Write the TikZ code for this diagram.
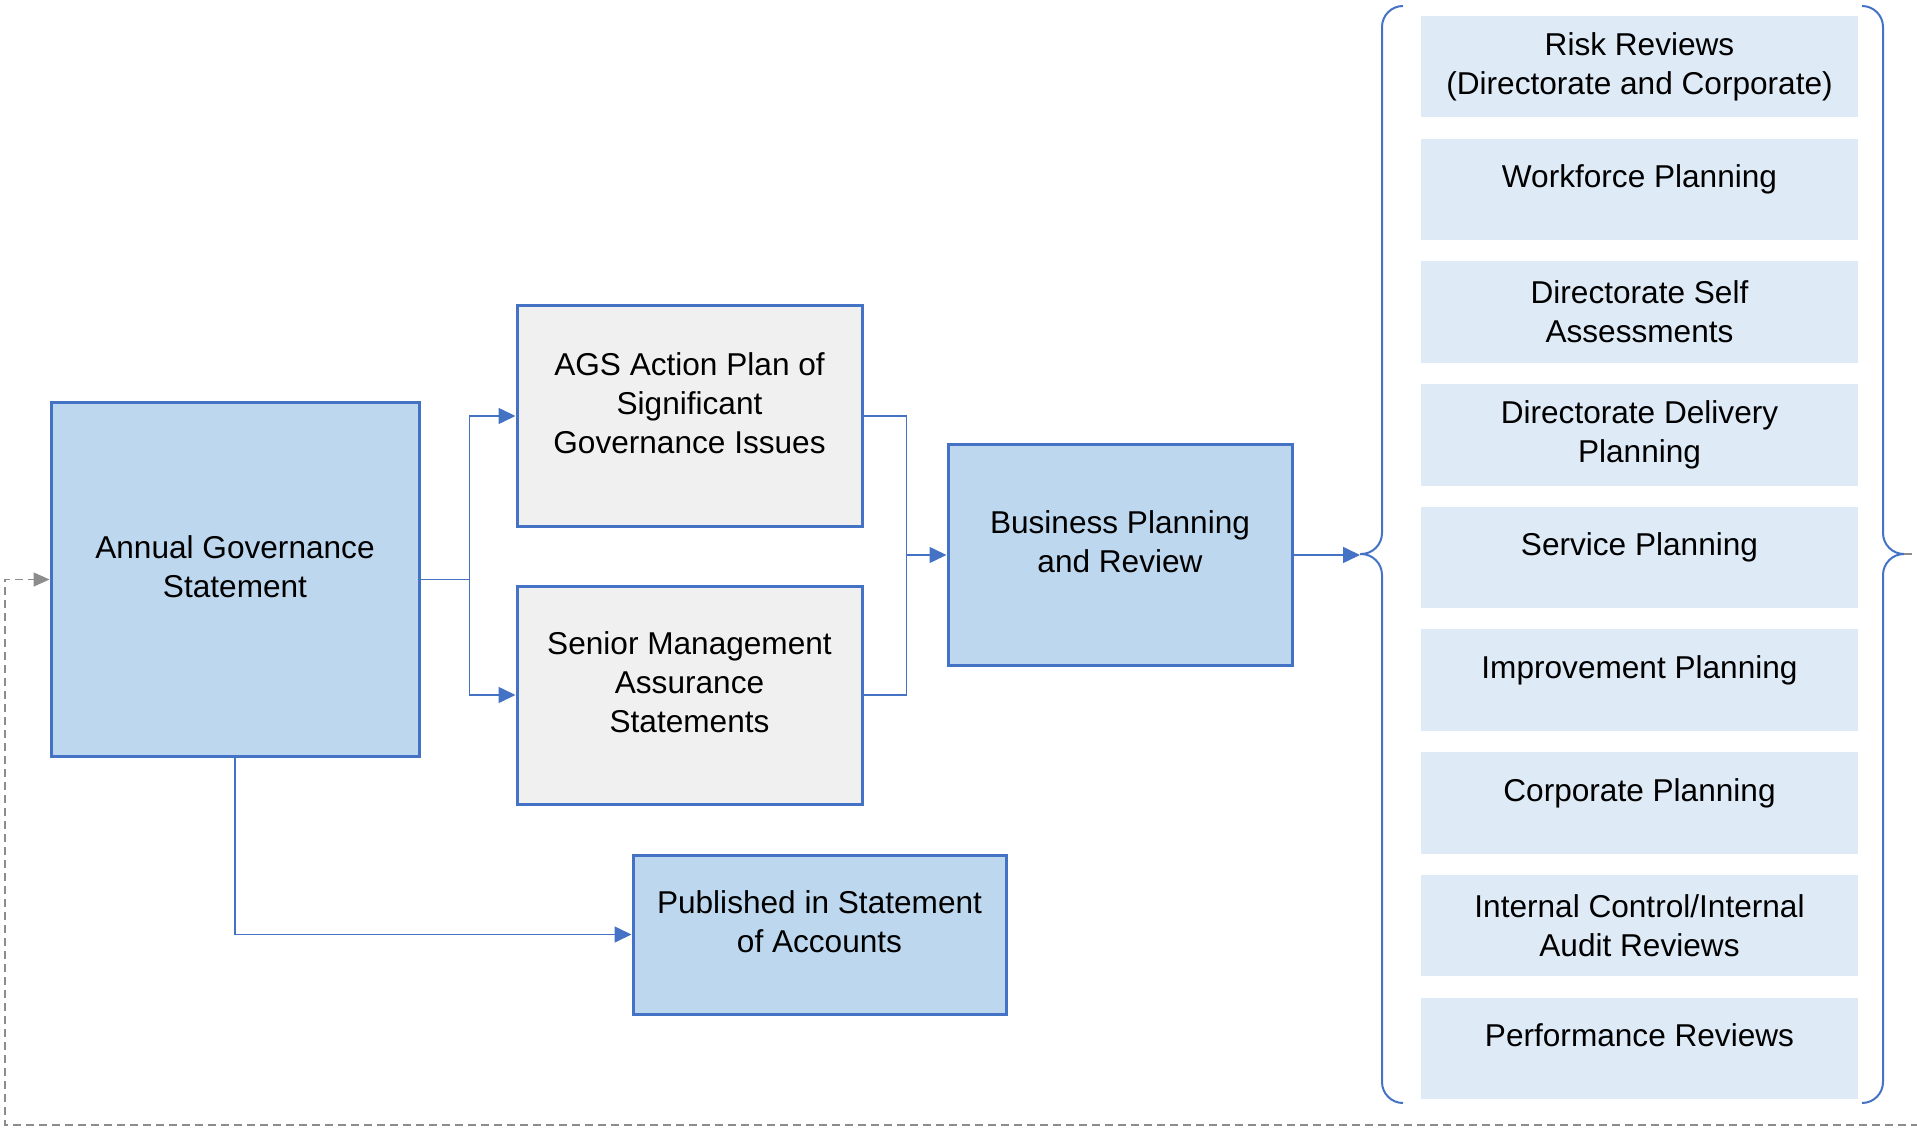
\documentclass[tikz,border=0pt]{standalone}
\usepackage{fontspec}
\setmainfont{Liberation Sans}
\usepackage{xcolor}
\usepackage{tikz}
\usetikzlibrary{
    positioning,
    arrows.meta,
    calc
}
\definecolor{edgeblue}{HTML}{4472C4}
\definecolor{mainfill}{HTML}{BDD7EE}
\definecolor{greyfill}{HTML}{F0F0F0}
\definecolor{itemfill}{HTML}{DEEAF6}
\definecolor{dashgrey}{HTML}{8C8C8C}
\tikzset{
  basic/.style = {
      draw=edgeblue,
      line width=1.5pt,
      rectangle,
      inner sep=0pt,
      align=center,
      font=\fontsize{15.8}{19.5}\selectfont
  },
  main/.style = {
      basic,
      fill=mainfill
  },
  grey/.style = {
      basic,
      fill=greyfill
  },
  item/.style = {
      basic,
      draw=none,
      fill=itemfill,
      minimum width=218.5pt,
      minimum height=50.75pt
  },
  lifted/.style = {
      text depth=13pt
  },
  flat/.style = {},
  link/.style = {
      draw=edgeblue,
      line width=0.8pt
  },
  arrow/.style = {
      -{Triangle[length=8.5pt,width=8pt]}
  },
  brace/.style = {
      draw=edgeblue,
      line width=1pt,
      rounded corners=10.5pt
  },
  feedback/.style = {
      draw=dashgrey,
      line width=0.75pt,
      dash pattern=on 4pt off 2.5pt,
      -{Triangle[length=8pt,width=7pt]}
  }
}
\begin{document}
\begin{tikzpicture}[x=0.5pt, y=-0.5pt]
    \useasboundingbox (0,0) rectangle (1917,1128);
    % Nodes
    \node[main, lifted, minimum width=184pt, minimum height=176.5pt] (annual) at (235,579.5) {Annual Governance\\Statement};
    \node[grey, lifted, minimum width=172.5pt, minimum height=110pt] (ags) at (689.5,416) {AGS Action Plan of\\Significant\\Governance Issues};
    \node[grey, lifted, minimum width=172.5pt, minimum height=109pt] (senior) at (689.5,695) {Senior Management\\Assurance\\Statements};
    \node[main, lifted, minimum width=172pt, minimum height=110pt] (business) at (1120,555) {Business Planning\\and Review};
    \node[main, lifted, minimum width=186.5pt, minimum height=79.5pt] (published) at (819.5,934.5) {Published in Statement\\of Accounts};
    \foreach \txt/\sty [count=\i from 0] in {
        {Risk Reviews\\(Directorate and Corporate)}/flat,
        {Workforce Planning}/lifted,
        {Directorate Self\\Assessments}/flat,
        {Directorate Delivery\\Planning}/flat,
        {Service Planning}/lifted,
        {Improvement Planning}/lifted,
        {Corporate Planning}/lifted,
        {Internal Control/Internal\\Audit Reviews}/flat,
        {Performance Reviews}/lifted}
        \node[item, \sty] (item\i) at ({1639.5},{66.7+122.7*\i}) {\txt};
    % Braces
    \coordinate (ltip) at (1360,554);
    \coordinate (rtip) at (1904,554);
    \draw[brace] (1403,6) -| (1382,554) -- (ltip);
    \draw[brace] (1403,1103) -| (1382,554) -- (ltip);
    \draw[brace] (1862,6) -| (1883,554) -- (rtip);
    \draw[brace] (1862,1103) -| (1883,554) -- (rtip);
    % Edges
    \draw[link] (annual.east) -- ++(49,0) coordinate (split);
    \draw[link, arrow] (split) |- (ags.west);
    \draw[link, arrow] (split) |- (senior.west);
    \draw[link] (ags.east) -- ++(43,0) coordinate (merge) |- (senior.east);
    \draw[link, arrow] (merge |- business.west) -- (business.west);
    \draw[link, arrow] (business.east) -- (business.east -| ltip);
    \draw[link, arrow] (annual.south) |- (published.west);
    \draw[feedback] (rtip) -- ++(21,0) |- (5,1125) |- (annual.west);
\end{tikzpicture}
\end{document}
